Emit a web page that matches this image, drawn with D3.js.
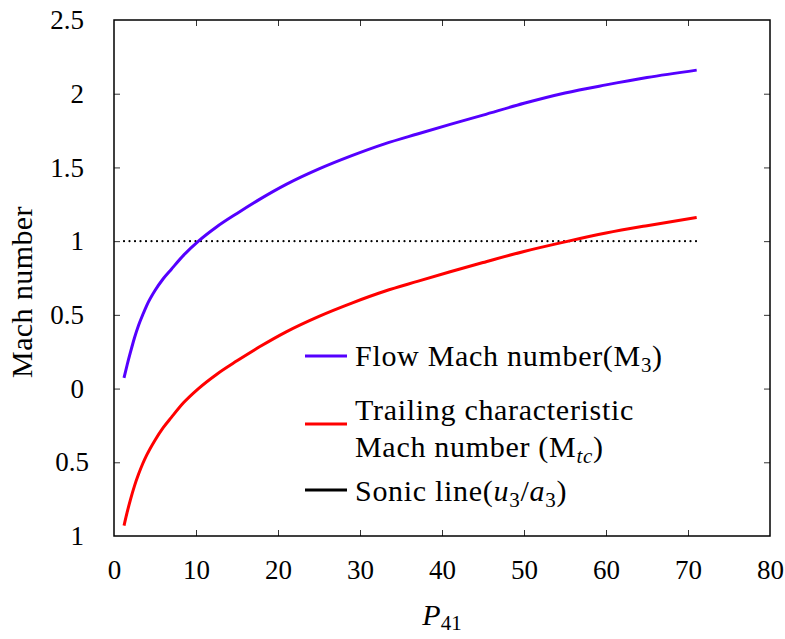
<!DOCTYPE html>
<html>
<head>
<meta charset="utf-8">
<script src="https://cdn.jsdelivr.net/npm/d3@7"></script>
<style>
  body { margin: 0; background: #fff; }
</style>
</head>
<body>
<svg id="chart" width="785" height="639"></svg>
<script>
const FONT = '"Liberation Serif"';

// P41 pressure ratio samples
const p41 = [1.22, 1.6, 2, 2.5, 3, 3.5, 4, 5, 6, 7, 8.5, 10.3, 12.5, 15, 17.8, 21, 25, 29, 33,
             37, 41, 45, 50, 55, 60, 65, 71.06];
// Flow Mach number M3
const m3  = [0.072, 0.16, 0.245, 0.345, 0.43, 0.5, 0.565, 0.665, 0.745, 0.81, 0.905, 1.0, 1.096,
             1.188, 1.285, 1.385, 1.49, 1.58, 1.66, 1.727, 1.792, 1.855, 1.935, 2.005, 2.06,
             2.11, 2.16];
// Trailing characteristic Mach number Mtc
const mtc = [-0.93, -0.84, -0.755, -0.66, -0.58, -0.51, -0.45, -0.35, -0.265, -0.195, -0.095,
             0.0, 0.096, 0.188, 0.285, 0.385, 0.49, 0.58, 0.66, 0.727, 0.792, 0.855, 0.93,
             0.995, 1.055, 1.105, 1.16];
// sonic line endpoints
const sonicX = [1.22, 71.06];
const sonicY = [1, 1];

const xTicks = [0, 10, 20, 30, 40, 50, 60, 70, 80];
const yTicks = [2.5, 2, 1.5, 1, 0.5, 0, -0.5, -1];

const colBlue = "#5500ff", colRed = "#ff0000";

const svg = d3.select("#chart");
const M = { l: 114, r: 15, t: 20, b: 103 };
const W = 785 - M.l - M.r, H = 639 - M.t - M.b;

const x = d3.scaleLinear().domain([0, 80]).range([0, W]);
const y = d3.scaleLinear().domain([-1, 2.5]).range([H, 0]);

const g = svg.append("g").attr("transform", `translate(${M.l},${M.t})`);

// ── Axes (inward ticks, mirrored) ─────────────────────────────
const fmt = d => String(Math.abs(d));   // the reference prints no minus signs

const xb = g.append("g").attr("transform", `translate(0,${H})`)
  .call(d3.axisBottom(x).tickValues(xTicks).tickSizeInner(-6).tickSizeOuter(0).tickPadding(24));
const xt = g.append("g")
  .call(d3.axisTop(x).tickValues(xTicks).tickSizeInner(-6).tickSizeOuter(0).tickFormat(""));
const yl = g.append("g")
  .call(d3.axisLeft(y).tickValues(yTicks).tickSizeInner(-6).tickSizeOuter(0).tickPadding(30).tickFormat(fmt));
const yr = g.append("g").attr("transform", `translate(${W},0)`)
  .call(d3.axisRight(y).tickValues(yTicks).tickSizeInner(-6).tickSizeOuter(0).tickFormat(""));

[xb, xt, yl, yr].forEach(a => {
  a.select(".domain").remove();
  a.attr("font-family", null).attr("font-size", null);
  a.selectAll("line").attr("stroke", "#333").attr("stroke-width", 1);
  a.selectAll("text").style("font-family", FONT).style("font-size", "27px").attr("fill", "#000");
});
yl.selectAll(".tick text").filter(d => d === -0.5).attr("x", -25);
// no ticks at the frame corners
[xb, xt].forEach(a => a.selectAll(".tick line").filter(d => d === 0 || d === 80).remove());
[yl, yr].forEach(a => a.selectAll(".tick line").filter(d => d === 2.5 || d === -1).remove());

g.append("rect").attr("width", W).attr("height", H)
  .attr("fill", "none").attr("stroke", "#000").attr("stroke-width", 1.5);

// ── Series ────────────────────────────────────────────────────
const line = d3.line().curve(d3.curveMonotoneX);

g.append("path")
  .datum(sonicX.map((v, i) => [x(v), y(sonicY[i])]))
  .attr("d", line).attr("fill", "none")
  .attr("stroke", "#000").attr("stroke-width", 2.2)
  .attr("stroke-dasharray", "0 5.5").attr("stroke-linecap", "round");

g.append("path")
  .datum(p41.map((v, i) => [x(v), y(m3[i])]))
  .attr("d", line).attr("fill", "none")
  .attr("stroke", colBlue).attr("stroke-width", 3);

g.append("path")
  .datum(p41.map((v, i) => [x(v), y(mtc[i])]))
  .attr("d", line).attr("fill", "none")
  .attr("stroke", colRed).attr("stroke-width", 3);

// ── Legend ────────────────────────────────────────────────────
const leg = svg.append("g");
const legItems = [
  { c: colBlue, ly: 356 },
  { c: colRed,  ly: 424 },
  { c: "#000",  ly: 490 }
];
leg.selectAll("line").data(legItems).join("line")
  .attr("x1", 305).attr("x2", 347)
  .attr("y1", d => d.ly).attr("y2", d => d.ly)
  .attr("stroke", d => d.c).attr("stroke-width", 3);

const legText = (xx, yy) => leg.append("text").attr("x", xx).attr("y", yy)
  .style("font-family", FONT).style("font-size", "30px").style("letter-spacing", "0.7px");
const sub = (t, s, italic) => {
  t.append("tspan").attr("dy", 6).style("font-size", "21px")
    .style("font-style", italic ? "italic" : "normal").text(s);
  return t;
};

const t1 = legText(355, 366);
t1.append("tspan").text("Flow Mach number(M");
sub(t1, "3");
t1.append("tspan").attr("dy", -6).text(")");

legText(355, 420).text("Trailing characteristic");
const t2 = legText(355, 457);
t2.append("tspan").text("Mach number (M");
sub(t2, "tc", true);
t2.append("tspan").attr("dy", -6).text(")");

const t3 = legText(355, 501);
t3.append("tspan").text("Sonic line(");
t3.append("tspan").style("font-style", "italic").text("u");
sub(t3, "3");
t3.append("tspan").attr("dy", -6).text("/");
t3.append("tspan").style("font-style", "italic").text("a");
sub(t3, "3");
t3.append("tspan").attr("dy", -6).text(")");

// ── Axis titles ───────────────────────────────────────────────
const xt2 = svg.append("text").attr("x", M.l + W / 2).attr("y", 625)
  .attr("text-anchor", "middle").style("font-family", FONT).style("font-size", "30px");
xt2.append("tspan").style("font-style", "italic").text("P");
xt2.append("tspan").attr("dy", 5).style("font-size", "21px").text("41");

svg.append("text")
  .attr("transform", `translate(32,292) rotate(-90)`)
  .attr("text-anchor", "middle")
  .style("font-family", FONT).style("font-size", "30px").style("letter-spacing", "0.4px")
  .text("Mach number");
</script>
</body>
</html>
